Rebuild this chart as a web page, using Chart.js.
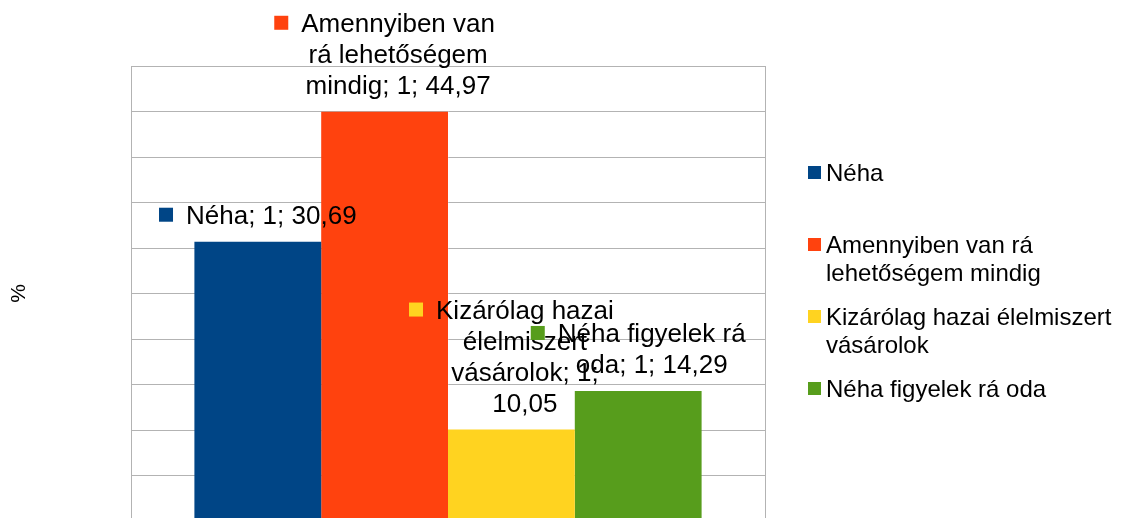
<!DOCTYPE html>
<html>
<head>
<meta charset="utf-8">
<script src="https://cdn.jsdelivr.net/npm/chart.js@4/dist/chart.umd.min.js"></script>
<style>
html,body{margin:0;padding:0;background:#fff;overflow:hidden;}
#wrap{width:1123px;height:540px;}
</style>
</head>
<body>
<div id="wrap"><canvas id="c" width="1123" height="540"></canvas></div>
<script>
const categories = ['1'];
const seriesNames = ['Néha', 'Amennyiben van rá lehetőségem mindig', 'Kizárólag hazai élelmiszert vásárolok', 'Néha figyelek rá oda'];
const seriesValues = [30.69, 44.97, 10.05, 14.29];
const seriesColors = ['#004586', '#ff420e', '#ffd320', '#579d1c'];
const yMin = 0, yMax = 50, yStep = 5;
const yTitle = '%';

const FONT = '"Liberation Sans", Arial, sans-serif';

function wrapText(ctx, text, maxW) {
  const words = text.split(' ');
  const lines = [];
  let cur = '';
  for (const w of words) {
    const t = cur ? cur + ' ' + w : w;
    if (cur && ctx.measureText(t).width > maxW) { lines.push(cur); cur = w; }
    else cur = t;
  }
  if (cur) lines.push(cur);
  return lines;
}

const labelPlugin = {
  id: 'barLabels',
  afterDatasetsDraw(chart) {
    const ctx = chart.ctx;
    ctx.save();
    ctx.font = '26px ' + FONT;
    ctx.textBaseline = 'alphabetic';
    ctx.textAlign = 'center';
    chart.data.datasets.forEach((ds, i) => {
      const bar = chart.getDatasetMeta(i).data[0];
      const val = ds.data[0];
      const txt = ds.label + '; ' + categories[0] + '; ' + val.toFixed(2).replace('.', ',');
      const lines = wrapText(ctx, txt, 205);
      const W = Math.max(...lines.map(l => ctx.measureText(l).width));
      const total = 14 + 13 + W;
      const left = bar.x - total / 2;
      const cx = left + 27 + W / 2;
      const lastB = bar.y - 18;
      const firstB = lastB - 31 * (lines.length - 1);
      ctx.fillStyle = ds.backgroundColor;
      ctx.fillRect(left, firstB - 16, 14, 14);
      ctx.fillStyle = '#000';
      lines.forEach((l, k) => ctx.fillText(l, cx, firstB + 31 * k));
    });
    ctx.restore();
  }
};

const legendPlugin = {
  id: 'sideLegend',
  afterDraw(chart) {
    const ctx = chart.ctx;
    ctx.save();
    ctx.font = '24px ' + FONT;
    ctx.textAlign = 'left';
    ctx.textBaseline = 'alphabetic';
    chart.data.datasets.forEach((ds, i) => {
      const b = 181 + 72 * i;
      const lines = wrapText(ctx, ds.label, 295);
      ctx.fillStyle = ds.backgroundColor;
      ctx.fillRect(808, b - 15, 13, 13);
      ctx.fillStyle = '#000';
      lines.forEach((l, k) => ctx.fillText(l, 826, b + 28 * k));
    });
    ctx.restore();
  }
};

new Chart(document.getElementById('c'), {
  type: 'bar',
  data: {
    labels: categories,
    datasets: seriesNames.map((n, i) => ({
      label: n,
      data: [seriesValues[i]],
      backgroundColor: seriesColors[i],
      borderWidth: 0,
      barPercentage: 1.0,
      categoryPercentage: 0.8
    }))
  },
  options: {
    responsive: false,
    animation: false,
    layout: { padding: { top: 66, right: 358, bottom: 19, left: 0 } },
    plugins: { legend: { display: false }, tooltip: { enabled: false } },
    scales: {
      x: {
        ticks: { display: false },
        grid: { color: '#b3b3b3', drawTicks: false, lineWidth: 1 },
        border: { display: false },
        afterFit(s) { s.height = 0; }
      },
      y: {
        min: yMin, max: yMax,
        ticks: { display: false, stepSize: yStep },
        grid: { color: '#b3b3b3', drawTicks: false, lineWidth: 1 },
        border: { display: true, color: '#b3b3b3' },
        title: { display: true, text: yTitle, color: '#000', font: { family: FONT, size: 21 }, padding: { top: 7, bottom: 0 } },
        afterFit(s) { s.width = 131; }
      }
    }
  },
  plugins: [labelPlugin, legendPlugin]
});
</script>
</body>
</html>
